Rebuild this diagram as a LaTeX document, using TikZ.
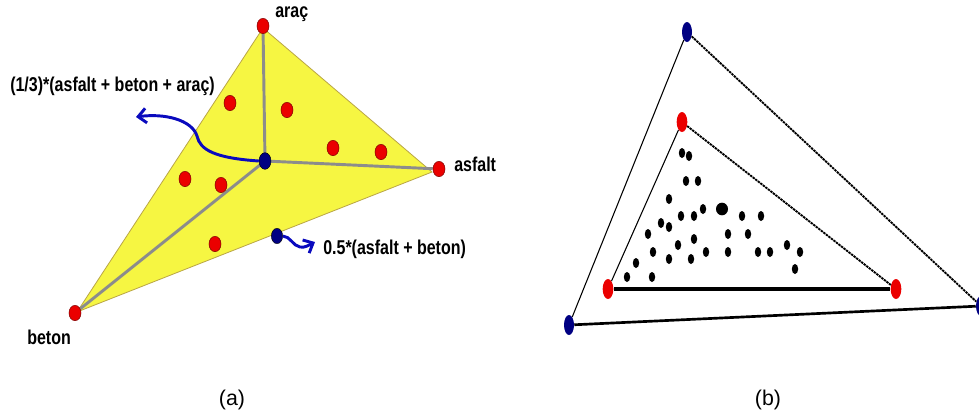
\documentclass[tikz,border=0pt]{standalone}
\usepackage{fontspec}
\setmainfont{Liberation Sans}
\newfontfamily\narrowfont[FakeStretch=0.8]{Liberation Sans}
\definecolor{tyellow}{RGB}{246,246,66}
\definecolor{tolive}{RGB}{185,165,70}
\definecolor{tred}{RGB}{235,0,0}
\definecolor{tdarkred}{RGB}{130,0,0}
\definecolor{tnavy}{RGB}{0,0,130}
\definecolor{tblue}{RGB}{10,10,190}
\definecolor{tgray}{RGB}{140,140,140}
\usetikzlibrary{arrows.meta,shapes.geometric,backgrounds}

\begin{document}
\begin{tikzpicture}[x=0.75pt,y=-0.75pt,
  lbl/.style={font=\narrowfont\bfseries\fontsize{15}{18}\selectfont,anchor=west,inner sep=0pt},
  captxt/.style={font=\fontsize{16}{19}\selectfont,inner sep=0pt},
  reddot/.style={ellipse,draw=tdarkred,fill=tred,line width=0.4pt,inner sep=0pt,minimum width=9pt,minimum height=11.5pt},
  bluedot/.style={ellipse,draw=black,fill=tnavy,line width=0.3pt,inner sep=0pt,minimum width=9pt,minimum height=12.5pt},
  grayline/.style={tgray,line width=2.2pt},
  bluearrow/.style={tblue,line width=2.2pt,-{Straight Barb[length=6pt,width=11pt]}},
  vdot/.style={ellipse,fill=#1,inner sep=0pt,minimum width=7.5pt,minimum height=15pt},
  bdot/.style={ellipse,fill=black,inner sep=0pt,minimum width=4.8pt,minimum height=7.5pt}]
  \useasboundingbox (0,0) rectangle (979,419);

  % (a)
  \node[reddot] (arac) at (263,26) {};
  \node[reddot] (asfalt) at (439,169) {};
  \node[reddot] (beton) at (75,313) {};
  \node[bluedot] (cen) at (265,161) {};
  \node[bluedot,minimum width=8.5pt,minimum height=11.5pt] (mid) at (277,236) {};
  \begin{scope}[on background layer]
    \filldraw[fill=tyellow,draw=tolive,line width=0.6pt] (263,28) -- (432,172) -- (77,312) -- cycle;
  \end{scope}
  \foreach \x/\y in {230/103,287/110,333/148,381/152,185/179,221/185,215/244}
    \node[reddot] at (\x,\y) {};
  \begin{scope}[on background layer]
    \draw[grayline] (cen.center) -- (arac);
    \draw[grayline] (cen.center) -- (asfalt);
    \draw[grayline] (cen.center) -- (beton);
  \end{scope}
  \node[lbl] (larac) at (275,14) {araç};
  \node[lbl] (lasfalt) at (454,164) {asfalt};
  \node[lbl] (lbeton) at (27,337) {beton};
  \node[lbl] (lmid) at (323,249) {0.5*(asfalt + beton)};
  \node[lbl] (lcen) at (10,86) {(1/3)*(asfalt + beton + araç)};
  \coordinate (tipc) at (136,117);
  \coordinate (tipm) at (315,242);
  \draw[bluearrow] (cen.west) .. controls (215,158) and (200,150) .. (197,136)
    .. controls (192,120) and (165,113) .. (tipc);
  \draw[bluearrow] (mid.east) .. controls (290,236) and (293,246) .. (300,247)
    .. controls (305,248) and (309,245) .. (tipm);
  \node[captxt] (capa) at (232,400) {(a)};

  % (b)
  \node[vdot=tnavy] (otop) at (687,32) {};
  \node[vdot=tnavy] (oleft) at (569,325) {};
  \node[vdot=tnavy] (oright) at (981,306) {};
  \node[vdot=tred,minimum width=8pt] (itop) at (682,122) {};
  \node[vdot=tred,minimum width=8pt] (ileft) at (608,289) {};
  \node[vdot=tred,minimum width=8pt] (iright) at (896,289) {};
  \draw[line width=0.8pt] (otop) -- (oleft);
  \draw[line width=1.4pt,dash pattern=on 1.8pt off 0.6pt] (otop) -- (oright);
  \draw[line width=2pt] (oleft) -- (oright);
  \draw[line width=0.8pt] (itop) -- (ileft);
  \draw[line width=1.4pt,dash pattern=on 1.8pt off 0.6pt] (itop) -- (iright);
  \draw[line width=2.3pt] (ileft) -- (iright);
  \foreach \x/\y in {682/153,689/156,686/181,698/181,669/199,703/209,681/216,694/216,
      742/216,761/216,661/223,669/227,648/234,728/234,748/234,694/239,678/245,787/245,
      653/252,706/252,728/252,758/252,770/252,800/252,669/259,691/259,636/263,795/269,
      627/277,652/277}
    \node[bdot] at (\x,\y) {};
  \node[bdot,minimum width=9pt,minimum height=9.5pt] (big) at (722,209) {};
  \node[captxt] (capb) at (768,400) {(b)};
\end{tikzpicture}
\end{document}
